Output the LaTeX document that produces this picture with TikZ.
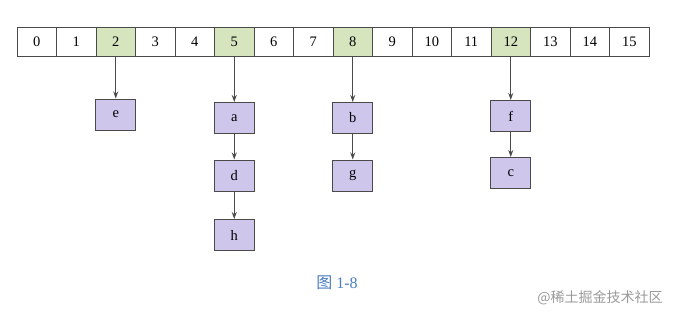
\documentclass[tikz,border=0pt]{standalone}
\usepackage{fontspec}
\setmainfont{Liberation Serif}
\newfontfamily\cjk{Noto Sans CJK SC}
\usetikzlibrary{arrows.meta}
\definecolor{cellgreen}{HTML}{D6E5BE}
\definecolor{boxpurple}{HTML}{CFC6EC}
\definecolor{edgegray}{HTML}{4A4A4A}
\definecolor{capblue}{HTML}{4A7DC0}
\definecolor{wmgray}{HTML}{9A9A9A}
\begin{document}
\begin{tikzpicture}[x=1pt,y=-1pt,
  cellbox/.style={draw=edgegray,line width=1pt,minimum width=39.5pt,minimum height=29pt,inner sep=0pt,font=\fontsize{14.5}{14.5}\selectfont,anchor=center},
  hot/.style={fill=cellgreen},
  itembox/.style={draw=edgegray,line width=1pt,fill=boxpurple,minimum width=40pt,minimum height=31pt,inner sep=0pt,font=\fontsize{14.5}{14.5}\selectfont},
  link/.style={draw=edgegray,line width=0.9pt,-{Stealth[length=7pt,width=5pt]}}]
\useasboundingbox (0,0) rectangle (674,316);
\foreach \i in {0,...,15}{
  \pgfmathsetmacro{\cx}{17+39.5*(\i+0.5)}
  \ifnum\i=2 \def\st{hot}\else\ifnum\i=5 \def\st{hot}\else\ifnum\i=8 \def\st{hot}\else\ifnum\i=12 \def\st{hot}\else\def\st{}\fi\fi\fi\fi
  \node[cellbox,\st] (c\i) at (\cx,41.5) {\i};
}
\node[itembox] (e) at (115.75,114.5) {e};
\node[itembox] (a) at (234.25,118) {a};
\node[itembox] (d) at (234.25,175.5) {d};
\node[itembox] (h) at (234.25,235) {h};
\node[itembox] (b) at (352.75,118) {b};
\node[itembox] (g) at (352.75,175.5) {g};
\node[itembox] (f) at (510.75,116) {f};
\node[itembox] (cc) at (510.75,173) {c};
\draw[link] (c2) -- (e);
\draw[link] (c5) -- (a);
\draw[link] (a) -- (d);
\draw[link] (d) -- (h);
\draw[link] (c8) -- (b);
\draw[link] (b) -- (g);
\draw[link] (c12) -- (f);
\draw[link] (f) -- (cc);
\node[text=capblue,font=\fontsize{16}{16}\selectfont] (cap) at (337,283) {{\cjk 图} 1-8};
\node[text=wmgray,font=\cjk\fontsize{14}{14}\selectfont] (wm) at (600,298) {@稀土掘金技术社区};
\end{tikzpicture}
\end{document}
